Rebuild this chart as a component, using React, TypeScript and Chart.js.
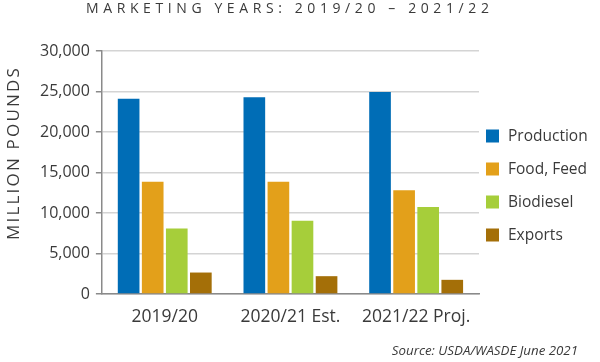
import React, { useEffect, useRef } from "react";
import { Chart, registerables } from "chart.js";

Chart.register(...registerables);

const categories = ["2019/20", "2020/21 Est.", "2021/22 Proj."];
const production = [24100, 24300, 24950];
const foodFeed = [13850, 13850, 12800];
const biodiesel = [8100, 9050, 10750];
const exportsVals = [2650, 2200, 1750];
const seriesNames = ["Production", "Food, Feed", "Biodiesel", "Exports"];
const seriesColors = ["#006db6", "#e3a01a", "#a6ce3a", "#a46f08"];
const yMin = 0;
const yMax = 30000;
const yStep = 5000;
const titleText = "MARKETING YEARS: 2019/20 – 2021/22";
const yTitleText = "MILLION POUNDS";
const sourceText = "Source: USDA/WASDE June 2021";

const FONT = '"Open Sans", sans-serif';
const TEXT = "#3a3a3a";

const textPlugin = {
  id: "customText",
  afterDraw(chart: any) {
    const ctx = chart.ctx;
    ctx.save();
    ctx.fillStyle = TEXT;
    ctx.textBaseline = "middle";
    // title
    ctx.textAlign = "left";
    ctx.font = `14px ${FONT}`;
    (ctx as any).letterSpacing = "4.6px";
    ctx.fillText(titleText, 86, 9);
    // y axis title
    (ctx as any).letterSpacing = "2.2px";
    ctx.save();
    ctx.translate(14, 154);
    ctx.rotate(-Math.PI / 2);
    ctx.textAlign = "center";
    ctx.font = `17px ${FONT}`;
    ctx.fillText(yTitleText, 1, 0);
    ctx.restore();
    (ctx as any).letterSpacing = "0px";
    // legend
    const ds = chart.data.datasets;
    ds.forEach((d: any, i: number) => {
      const cy = 136 + i * 33;
      ctx.fillStyle = d.backgroundColor;
      ctx.fillRect(486, cy - 6.5, 13, 13);
      ctx.fillStyle = TEXT;
      ctx.textAlign = "left";
      ctx.font = `15.5px ${FONT}`;
      ctx.fillText(d.label, 508, cy + 0.5);
    });
    // source
    ctx.textAlign = "right";
    ctx.font = `italic 13.3px ${FONT}`;
    ctx.fillText(sourceText, 578, 351);
    ctx.restore();
  },
};

export default function App() {
  const ref = useRef<HTMLCanvasElement | null>(null);
  useEffect(() => {
    if (!ref.current) return;
    const data = [production, foodFeed, biodiesel, exportsVals];
    const chart = new Chart(ref.current, {
      type: "bar",
      data: {
        labels: categories,
        datasets: seriesNames.map((n, i) => ({
          label: n,
          data: data[i],
          backgroundColor: seriesColors[i],
          borderWidth: 0,
          barPercentage: 0.9,
          categoryPercentage: 0.766,
        })),
      },
      options: {
        responsive: false,
        animation: false,
        layout: { padding: { top: 51, left: 34, right: 121, bottom: 21 } },
        plugins: {
          legend: { display: false },
          title: { display: false },
          tooltip: { enabled: false },
        },
        scales: {
          x: {
            grid: { display: true, drawOnChartArea: false, drawTicks: false },
            border: { display: true, color: "#8a8a8a", width: 1.5 },
            ticks: { color: TEXT, font: { family: FONT, size: 17.5 }, padding: 13 },
          },
          y: {
            min: yMin,
            max: yMax,
            ticks: {
              stepSize: yStep,
              color: TEXT,
              font: { family: FONT, size: 16 },
              padding: 6,
              callback: (v: any) => Number(v).toLocaleString("en-US"),
            },
            grid: { color: "#d4d4d4", lineWidth: 1.5, tickLength: 6, tickColor: "#8a8a8a" },
            border: { display: true, color: "#8a8a8a", width: 1.5 },
          },
        },
      },
      plugins: [textPlugin],
    });
    return () => chart.destroy();
  }, []);
  return (
    <div style={{ position: "fixed", left: 0, top: 0, width: 600, height: 362, background: "#fff" }}>
      <canvas ref={ref} width={600} height={362} />
    </div>
  );
}
